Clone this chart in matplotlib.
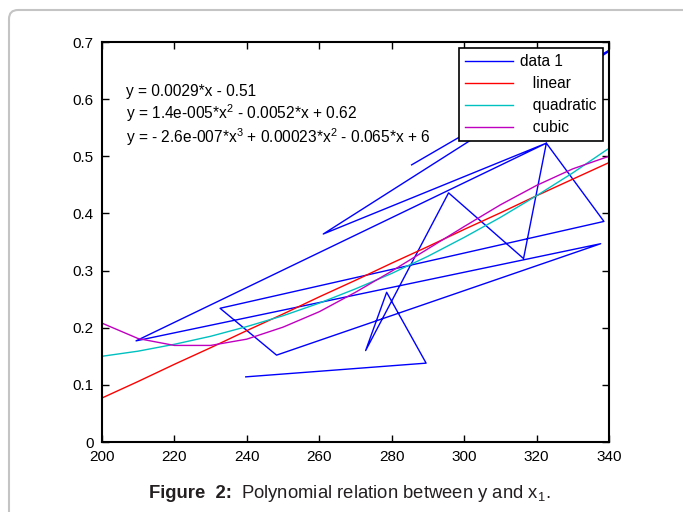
import matplotlib
matplotlib.use('Agg')
import matplotlib.pyplot as plt
from matplotlib.patches import FancyBboxPatch

plt.rcParams['font.family'] = ['Liberation Sans', 'DejaVu Sans']
plt.rcParams['mathtext.fontset'] = 'custom'
plt.rcParams['mathtext.rm'] = 'Liberation Sans'
plt.rcParams['mathtext.it'] = 'Liberation Sans:italic'

# raw data (blue polyline, in plotting order)
data_x = [239.7, 289.5, 278.6, 272.8, 295.7, 316.4, 322.7, 338.6, 232.6,
          248.2, 337.7, 209.4, 322.7, 261.1, 315.4, 345.0, 285.5]
data_y = [0.114, 0.138, 0.262, 0.160, 0.436, 0.321, 0.523, 0.386, 0.234,
          0.152, 0.347, 0.177, 0.523, 0.364, 0.583, 0.704, 0.485]

# fitted curves
fit_x = [200, 210, 220, 230, 240, 250, 260, 270, 280, 290, 300, 310, 320, 330, 340]
linear_y = [0.077, 0.106, 0.136, 0.165, 0.195, 0.224, 0.254, 0.283, 0.313,
            0.342, 0.372, 0.401, 0.431, 0.460, 0.489]
quad_y = [0.150, 0.159, 0.171, 0.185, 0.202, 0.221, 0.243, 0.268, 0.295,
          0.325, 0.358, 0.393, 0.431, 0.471, 0.514]
cubic_y = [0.208, 0.181, 0.169, 0.169, 0.180, 0.201, 0.228, 0.262, 0.299,
           0.338, 0.377, 0.415, 0.449, 0.478, 0.500]

eq_lines = [r'y = 0.0029*x - 0.51',
            r'y = 1.4e-005*x$\mathregular{^2}$ - 0.0052*x + 0.62',
            r'y = - 2.6e-007*x$\mathregular{^3}$ + 0.00023*x$\mathregular{^2}$ - 0.065*x + 6']
eq_y = [0.614, 0.575, 0.533]

fig = plt.figure(figsize=(6.83, 5.12), dpi=100)

# light rounded border around the figure panel
border = FancyBboxPatch((9, -30), 700, 532, boxstyle='round,pad=0,rounding_size=9',
                        transform=None, fill=False, ec='#c4c4c4', lw=1.5)
fig.patches.append(border)

ax = fig.add_axes([102/683, 1 - 442/512, 507/683, 400/512])

ax.plot(data_x, data_y, color='#0000ff', lw=1.0, label='data 1')
ax.plot(fit_x, linear_y, color='#ff0000', lw=1.0, label='   linear')
ax.plot(fit_x, quad_y, color='#00c0c0', lw=1.0, label='   quadratic')
ax.plot(fit_x, cubic_y, color='#c000c0', lw=1.0, label='   cubic')

for s, yy in zip(eq_lines, eq_y):
    ax.text(206.6, yy, s, fontsize=11.2, va='center', ha='left')

ax.set_xlim(200, 340)
ax.set_ylim(0, 0.7)
ax.set_xticks(range(200, 341, 20))
ax.set_yticks([0, 0.1, 0.2, 0.3, 0.4, 0.5, 0.6, 0.7])
ax.set_yticklabels(['0', '0.1', '0.2', '0.3', '0.4', '0.5', '0.6', '0.7'])
ax.tick_params(direction='in', top=True, right=True, length=5, width=1,
               labelsize=11)
ax.tick_params(axis='x', pad=6)
ax.tick_params(axis='y', pad=6)
for sp in ax.spines.values():
    sp.set_linewidth(1.5)

leg = ax.legend(loc='upper right', bbox_to_anchor=(0.988, 0.985), borderaxespad=0,
                fontsize=11.2, frameon=True, fancybox=False, framealpha=1,
                edgecolor='black', handlelength=3.1, handletextpad=0.45,
                labelspacing=0.45, borderpad=0.4)
leg.get_frame().set_linewidth(1.2)

fig.text(149/683, 1 - 493/512, 'Figure  2:', ha='left', va='center',
         fontsize=13.3, fontweight='bold', color='#231f20')
fig.text(241/683, 1 - 493/512, r'Polynomial relation between y and x$\mathregular{_1}$.',
         ha='left', va='center', fontsize=13.3, color='#231f20')

fig.savefig('out.png', dpi=100)
